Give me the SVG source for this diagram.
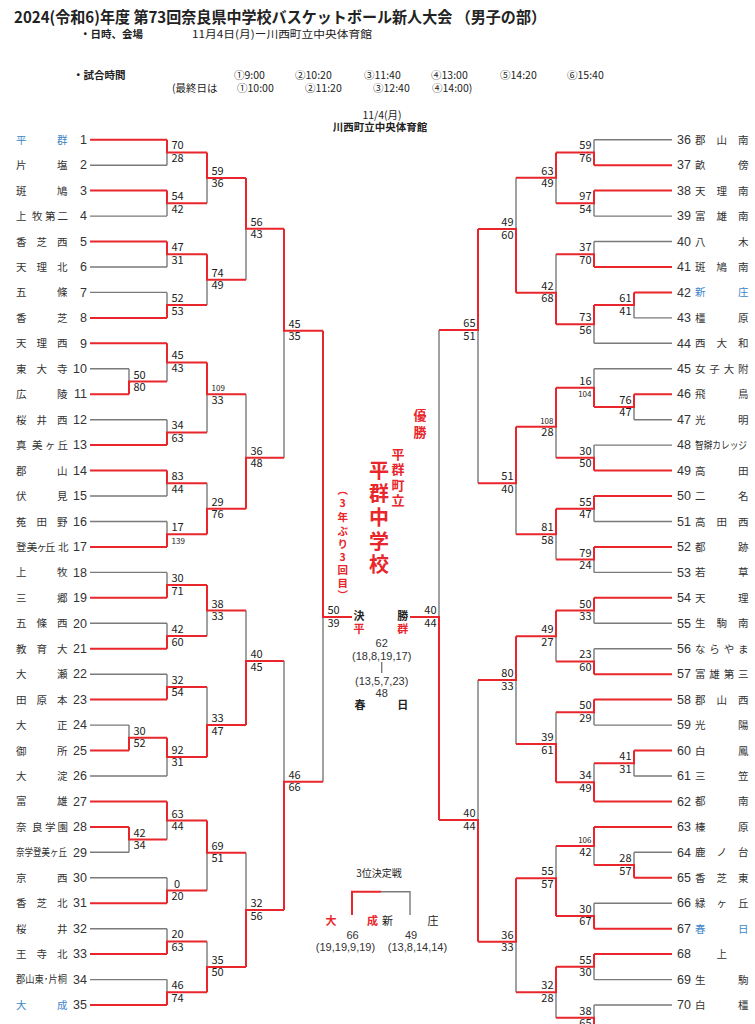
<svg xmlns="http://www.w3.org/2000/svg" width="755" height="1024" viewBox="0 0 755 1024">
<style>
.r{fill:none;stroke:#e8262b;stroke-width:2}
.g{fill:none;stroke:#7a7a7a;stroke-width:1.4}
text{font-family:"Noto Sans CJK JP",sans-serif;fill:#222}
.nm{font-size:10.5px;fill:#333}
.bl{fill:#3d85c6}
.no{font-family:"Liberation Sans","Noto Sans CJK JP",sans-serif;font-size:12.5px;fill:#333}
.ne{text-anchor:end}
.sc{font-family:"Liberation Sans",sans-serif;font-size:11px;fill:#333}
.sm{font-size:8px}
.se{text-anchor:end}
.rd{fill:#e8262b;font-weight:bold;text-anchor:middle}
.bk{font-weight:bold;text-anchor:middle;font-size:11px}
.hd{font-size:10.5px}
.hb{font-size:10.5px;font-weight:bold}
.mid{text-anchor:middle}
</style>
<rect width="755" height="1024" fill="#fff"/>
<g id="header">
<text x="14" y="23" font-size="15.5" font-weight="bold" textLength="532" lengthAdjust="spacingAndGlyphs">2024(令和6)年度 第73回奈良県中学校バスケットボール新人大会 （男子の部）</text>
<text class="hb" x="80" y="38">・日時、会場</text>
<text class="hd" x="192" y="38" textLength="180" lengthAdjust="spacingAndGlyphs">11月4日(月)ー川西町立中央体育館</text>
<text class="hb" x="73" y="79">・試合時間</text>
<text class="hd" x="234" y="79">①9:00</text>
<text class="hd" x="295" y="79">②10:20</text>
<text class="hd" x="364" y="79">③11:40</text>
<text class="hd" x="431" y="79">④13:00</text>
<text class="hd" x="500" y="79">⑤14:20</text>
<text class="hd" x="567" y="79">⑥15:40</text>
<text class="hd" x="172" y="92">(最終日は</text>
<text class="hd" x="237" y="92">①10:00</text>
<text class="hd" x="305" y="92">②11:20</text>
<text class="hd" x="373" y="92">③12:40</text>
<text class="hd" x="432" y="92">④14:00)</text>
<text class="hd mid" x="382" y="119">11/4(月)</text>
<text class="hb mid" x="380" y="131" font-size="10">川西町立中央体育館</text>
</g>
<g id="connectors">
<g id="team-lines">
<path class="g" d="M90,165.2H167M90,216.1H167M90,267H167M90,292.4H167M90,368.8H129M90,419.7H167M90,496H167M90,521.5H167M90,572.4H167M90,623.3H167M90,674.2H167M90,725.1H129M90,776H167M90,852.3H129M90,877.8H167M90,928.7H167M90,979.6H167"/>
<path class="r" d="M90,139.7H167M90,190.6H167M90,241.5H167M90,317.9H167M90,343.3H167M90,394.2H129M90,445.1H167M90,470.6H167M90,546.9H167M90,597.8H167M90,648.7H167M90,699.6H167M90,750.5H129M90,801.4H167M90,826.9H129M90,903.2H167M90,954.1H167M90,1005H167"/>
<path class="g" d="M672,139.7H594M672,216.1H594M672,241.5H594M672,317.9H634M672,343.3H594M672,368.8H594M672,419.7H634M672,445.1H594M672,521.5H594M672,572.4H594M672,623.3H594M672,648.7H594M672,725.1H594M672,776H634M672,852.3H634M672,903.2H594M672,979.6H594M672,1005H594"/>
<path class="r" d="M672,165.2H594M672,190.6H594M672,267H594M672,292.4H634M672,394.2H634M672,470.6H594M672,496H594M672,546.9H594M672,597.8H594M672,674.2H594M672,699.6H594M672,750.5H634M672,801.4H594M672,826.9H594M672,877.8H634M672,928.7H594M672,954.1H594"/>
</g>
<g id="left-bracket">
<path class="g" d="M167,152.4V165.2M167,203.3V216.1M207,177.9V203.3M167,254.2V267M167,292.4V305.1M207,279.7V305.1M246,228.8V279.7M129,368.8V381.5M167,362.4V381.5M167,419.7V432.4M207,394.3V432.4M167,483.3V496M167,521.5V534.2M207,483.3V508.8M246,394.3V457.7M284,330.7V457.7M167,572.4V585.1M167,623.3V636M207,610.5V636M167,674.2V686.9M129,725.1V737.8M167,756.9V776M207,686.9V725M246,610.5V661M129,839.6V852.3M167,820.5V839.6M167,877.8V890.5M207,852.7V890.5M167,928.7V941.4M167,979.6V992.3M207,941.4V966.9M246,852.7V910M284,661V781.7M323,617V781.7"/>
<path class="r" d="M167,139.7V152.4H207M167,190.6V203.3H207M207,152.4V177.9H246M167,241.5V254.2H207M167,317.9V305.1H207M207,254.2V279.7H246M246,177.9V228.8H284M129,394.2V381.5H167M167,343.3V362.4H207M167,445.1V432.4H207M207,362.4V394.3H246M167,470.6V483.3H207M167,546.9V534.2H207M207,534.2V508.8H246M246,508.8V457.7H284M284,228.8V330.7H323M167,597.8V585.1H207M167,648.7V636H207M207,585.1V610.5H246M167,699.6V686.9H207M129,750.5V737.8H167M167,737.8V756.9H207M207,756.9V725H246M246,725V661H284M129,826.9V839.6H167M167,801.4V820.5H207M167,903.2V890.5H207M207,820.5V852.7H246M167,954.1V941.4H207M167,1005V992.3H207M207,992.3V966.9H246M246,966.9V910H284M284,910V781.7H323M323,330.7V617H352"/>
</g>
<g id="right-bracket">
<path class="g" d="M594,139.7V152.4M594,203.3V216.1M556,177.7V203.3M594,241.5V254.2M634,305.1V317.9M594,324.2V343.3M556,254.2V292.7M516,177.7V229M634,406.9V419.7M594,368.8V387.8M594,445.1V457.8M556,426.7V457.8M594,508.7V521.5M594,559.6V572.4M556,534.2V559.6M516,483.3V534.2M478,330V483.3M594,610.5V623.3M594,648.7V661.4M556,636.3V661.4M594,712.3V725.1M634,763.2V776M594,763.2V782.3M556,712.3V744M516,680V744M634,852.3V865M594,846V865M594,903.2V915.9M556,846V878.3M594,966.8V979.6M594,1005V1017.7M556,992.3V1017.7M516,941.7V992.3M478,680V820M439,330V617"/>
<path class="r" d="M594,165.2V152.4H556M594,190.6V203.3H556M556,152.4V177.7H516M594,267V254.2H556M634,292.4V305.1H594M594,305.1V324.2H556M556,324.2V292.7H516M516,292.7V229H478M634,394.2V406.9H594M594,406.9V387.8H556M594,470.6V457.8H556M556,387.8V426.7H516M594,496V508.7H556M594,546.9V559.6H556M556,508.7V534.2H516M516,426.7V483.3H478M478,229V330H439M594,597.8V610.5H556M594,674.2V661.4H556M556,610.5V636.3H516M594,699.6V712.3H556M634,750.5V763.2H594M594,801.4V782.3H556M556,782.3V744H516M516,636.3V680H478M634,877.8V865H594M594,826.9V846H556M594,928.7V915.9H556M556,915.9V878.3H516M594,954.1V966.8H556M594,1030.5V1017.7H556M556,966.8V992.3H516M516,878.3V941.7H478M478,941.7V820H439M439,820V617H410"/>
</g>
<g id="third-place-lines">
<path class="g" d="M381,891.7H410V915"/>
<path class="r" d="M352,915V891.7H381"/>
</g>
<g id="scores-left" class="sc">
<text x="171.5" y="149.4">70</text><text x="171.5" y="161.9">28</text>
<text x="171.5" y="200.3">54</text><text x="171.5" y="212.8">42</text>
<text x="211.5" y="174.9">59</text><text x="211.5" y="187.4">36</text>
<text x="171.5" y="251.2">47</text><text x="171.5" y="263.7">31</text>
<text x="171.5" y="302.1">52</text><text x="171.5" y="314.6">53</text>
<text x="211.5" y="276.7">74</text><text x="211.5" y="289.2">49</text>
<text x="250.5" y="225.8">56</text><text x="250.5" y="238.3">43</text>
<text x="133.5" y="378.5">50</text><text x="133.5" y="391">80</text>
<text x="171.5" y="359.4">45</text><text x="171.5" y="371.9">43</text>
<text x="171.5" y="429.4">34</text><text x="171.5" y="441.9">63</text>
<text x="211.5" y="391.3" class="sm">109</text><text x="211.5" y="403.8">33</text>
<text x="171.5" y="480.3">83</text><text x="171.5" y="492.8">44</text>
<text x="171.5" y="531.2">17</text><text x="171.5" y="543.7" class="sm">139</text>
<text x="211.5" y="505.8">29</text><text x="211.5" y="518.3">76</text>
<text x="250.5" y="454.7">36</text><text x="250.5" y="467.2">48</text>
<text x="288.5" y="327.7">45</text><text x="288.5" y="340.2">35</text>
<text x="171.5" y="582.1">30</text><text x="171.5" y="594.6">71</text>
<text x="171.5" y="633">42</text><text x="171.5" y="645.5">60</text>
<text x="211.5" y="607.5">38</text><text x="211.5" y="620">33</text>
<text x="171.5" y="683.9">32</text><text x="171.5" y="696.4">54</text>
<text x="133.5" y="734.8">30</text><text x="133.5" y="747.3">52</text>
<text x="171.5" y="753.9">92</text><text x="171.5" y="766.4">31</text>
<text x="211.5" y="722">33</text><text x="211.5" y="734.5">47</text>
<text x="250.5" y="658">40</text><text x="250.5" y="670.5">45</text>
<text x="133.5" y="836.6">42</text><text x="133.5" y="849.1">34</text>
<text x="171.5" y="817.5">63</text><text x="171.5" y="830">44</text>
<text x="174" y="887.5">0</text><text x="171.5" y="900">20</text>
<text x="211.5" y="849.7">69</text><text x="211.5" y="862.2">51</text>
<text x="171.5" y="938.4">20</text><text x="171.5" y="950.9">63</text>
<text x="171.5" y="989.3">46</text><text x="171.5" y="1001.8">74</text>
<text x="211.5" y="963.9">35</text><text x="211.5" y="976.4">50</text>
<text x="250.5" y="907">32</text><text x="250.5" y="919.5">56</text>
<text x="288.5" y="778.7">46</text><text x="288.5" y="791.2">66</text>
<text x="327.5" y="614">50</text><text x="327.5" y="626.5">39</text>
</g>
<g id="scores-right" class="sc se">
<text x="591.5" y="149.4">59</text><text x="591.5" y="161.9">76</text>
<text x="591.5" y="200.3">97</text><text x="591.5" y="212.8">54</text>
<text x="553.5" y="174.7">63</text><text x="553.5" y="187.2">49</text>
<text x="591.5" y="251.2">37</text><text x="591.5" y="263.7">70</text>
<text x="631.5" y="302.1">61</text><text x="631.5" y="314.6">41</text>
<text x="591.5" y="321.2">73</text><text x="591.5" y="333.7">56</text>
<text x="553.5" y="289.7">42</text><text x="553.5" y="302.2">68</text>
<text x="513.5" y="226">49</text><text x="513.5" y="238.5">60</text>
<text x="631.5" y="403.9">76</text><text x="631.5" y="416.4">47</text>
<text x="591.5" y="384.8">16</text><text x="591.5" y="397.3" class="sm">104</text>
<text x="591.5" y="454.8">30</text><text x="591.5" y="467.3">50</text>
<text x="553.5" y="423.7" class="sm">108</text><text x="553.5" y="436.2">28</text>
<text x="591.5" y="505.7">55</text><text x="591.5" y="518.2">47</text>
<text x="591.5" y="556.6">79</text><text x="591.5" y="569.1">24</text>
<text x="553.5" y="531.2">81</text><text x="553.5" y="543.7">58</text>
<text x="513.5" y="480.3">51</text><text x="513.5" y="492.8">40</text>
<text x="475.5" y="327">65</text><text x="475.5" y="339.5">51</text>
<text x="591.5" y="607.5">50</text><text x="591.5" y="620">33</text>
<text x="591.5" y="658.4">23</text><text x="591.5" y="670.9">60</text>
<text x="553.5" y="633.3">49</text><text x="553.5" y="645.8">27</text>
<text x="591.5" y="709.3">50</text><text x="591.5" y="721.8">29</text>
<text x="631.5" y="760.2">41</text><text x="631.5" y="772.7">31</text>
<text x="591.5" y="779.3">34</text><text x="591.5" y="791.8">49</text>
<text x="553.5" y="741">39</text><text x="553.5" y="753.5">61</text>
<text x="513.5" y="677">80</text><text x="513.5" y="689.5">33</text>
<text x="631.5" y="862">28</text><text x="631.5" y="874.5">57</text>
<text x="591.5" y="843" class="sm">106</text><text x="591.5" y="855.5">42</text>
<text x="591.5" y="912.9">30</text><text x="591.5" y="925.4">67</text>
<text x="553.5" y="875.3">55</text><text x="553.5" y="887.8">57</text>
<text x="591.5" y="963.8">55</text><text x="591.5" y="976.3">30</text>
<text x="591.5" y="1014.7">38</text><text x="591.5" y="1027.2">65</text>
<text x="553.5" y="989.3">32</text><text x="553.5" y="1001.8">28</text>
<text x="513.5" y="938.7">36</text><text x="513.5" y="951.2">33</text>
<text x="475.5" y="817">40</text><text x="475.5" y="829.5">44</text>
<text x="436.5" y="614">40</text><text x="436.5" y="626.5">44</text>
</g>
</g>
<g id="team-1"><text class="nm bl" x="16 57" y="143.7">平群</text><text class="no ne" x="87" y="143.9">1</text></g>
<g id="team-2"><text class="nm" x="16 57" y="169.2">片塩</text><text class="no ne" x="87" y="169.4">2</text></g>
<g id="team-3"><text class="nm" x="16 57" y="194.6">斑鳩</text><text class="no ne" x="87" y="194.8">3</text></g>
<g id="team-4"><text class="nm" x="16 32 45 57.5" y="220.1">上牧第二</text><text class="no ne" x="87" y="220.3">4</text></g>
<g id="team-5"><text class="nm" x="16 36.5 57" y="245.5">香芝西</text><text class="no ne" x="87" y="245.7">5</text></g>
<g id="team-6"><text class="nm" x="16 36.5 57" y="271">天理北</text><text class="no ne" x="87" y="271.2">6</text></g>
<g id="team-7"><text class="nm" x="16 57" y="296.4">五條</text><text class="no ne" x="87" y="296.6">7</text></g>
<g id="team-8"><text class="nm" x="16 57" y="321.9">香芝</text><text class="no ne" x="87" y="322.1">8</text></g>
<g id="team-9"><text class="nm" x="16 36.5 57" y="347.3">天理西</text><text class="no ne" x="87" y="347.5">9</text></g>
<g id="team-10"><text class="nm" x="16 36.5 57" y="372.8">東大寺</text><text class="no ne" x="87" y="373">10</text></g>
<g id="team-11"><text class="nm" x="16 57" y="398.2">広陵</text><text class="no ne" x="87" y="398.4">11</text></g>
<g id="team-12"><text class="nm" x="16 36.5 57" y="423.7">桜井西</text><text class="no ne" x="87" y="423.9">12</text></g>
<g id="team-13"><text class="nm" x="16 32 45 57.5" y="449.1">真美ヶ丘</text><text class="no ne" x="87" y="449.3">13</text></g>
<g id="team-14"><text class="nm" x="16 57" y="474.6">郡山</text><text class="no ne" x="87" y="474.8">14</text></g>
<g id="team-15"><text class="nm" x="16 57" y="500">伏見</text><text class="no ne" x="87" y="500.2">15</text></g>
<g id="team-16"><text class="nm" x="16 36.5 57" y="525.5">菟田野</text><text class="no ne" x="87" y="525.7">16</text></g>
<g id="team-17"><text class="nm" font-size="10" x="16 26.7 36.5 45 58" y="550.9">登美ヶ丘北</text><text class="no ne" x="87" y="551.1">17</text></g>
<g id="team-18"><text class="nm" x="16 57" y="576.4">上牧</text><text class="no ne" x="87" y="576.6">18</text></g>
<g id="team-19"><text class="nm" x="16 57" y="601.8">三郷</text><text class="no ne" x="87" y="602">19</text></g>
<g id="team-20"><text class="nm" x="16 36.5 57" y="627.3">五條西</text><text class="no ne" x="87" y="627.5">20</text></g>
<g id="team-21"><text class="nm" x="16 36.5 57" y="652.7">教育大</text><text class="no ne" x="87" y="652.9">21</text></g>
<g id="team-22"><text class="nm" x="16 57" y="678.2">大瀬</text><text class="no ne" x="87" y="678.4">22</text></g>
<g id="team-23"><text class="nm" x="16 36.5 57" y="703.6">田原本</text><text class="no ne" x="87" y="703.8">23</text></g>
<g id="team-24"><text class="nm" x="16 57" y="729.1">大正</text><text class="no ne" x="87" y="729.3">24</text></g>
<g id="team-25"><text class="nm" x="16 57" y="754.5">御所</text><text class="no ne" x="87" y="754.7">25</text></g>
<g id="team-26"><text class="nm" x="16 57" y="780">大淀</text><text class="no ne" x="87" y="780.2">26</text></g>
<g id="team-27"><text class="nm" x="16 57" y="805.4">富雄</text><text class="no ne" x="87" y="805.6">27</text></g>
<g id="team-28"><text class="nm" x="16 32 45 57.5" y="830.9">奈良学園</text><text class="no ne" x="87" y="831.1">28</text></g>
<g id="team-29"><text class="nm" font-size="8.5" x="16" y="855.6" textLength="51" lengthAdjust="spacingAndGlyphs">奈学登美ヶ丘</text><text class="no ne" x="87" y="856.5">29</text></g>
<g id="team-30"><text class="nm" x="16 57" y="881.8">京西</text><text class="no ne" x="87" y="882">30</text></g>
<g id="team-31"><text class="nm" x="16 36.5 57" y="907.2">香芝北</text><text class="no ne" x="87" y="907.4">31</text></g>
<g id="team-32"><text class="nm" x="16 57" y="932.7">桜井</text><text class="no ne" x="87" y="932.9">32</text></g>
<g id="team-33"><text class="nm" x="16 36.5 57" y="958.1">王寺北</text><text class="no ne" x="87" y="958.3">33</text></g>
<g id="team-34"><text class="nm" font-size="8.5" x="16" y="982.9" textLength="51" lengthAdjust="spacingAndGlyphs">郡山東･片桐</text><text class="no ne" x="87" y="983.8">34</text></g>
<g id="team-35"><text class="nm bl" x="16 57" y="1009">大成</text><text class="no ne" x="87" y="1009.2">35</text></g>
<g id="team-36"><text class="no" x="677" y="143.9">36</text><text class="nm" x="695 716.5 738" y="143.7">郡山南</text></g>
<g id="team-37"><text class="no" x="677" y="169.4">37</text><text class="nm" x="695 738" y="169.2">畝傍</text></g>
<g id="team-38"><text class="no" x="677" y="194.8">38</text><text class="nm" x="695 716.5 738" y="194.6">天理南</text></g>
<g id="team-39"><text class="no" x="677" y="220.3">39</text><text class="nm" x="695 716.5 738" y="220.1">富雄南</text></g>
<g id="team-40"><text class="no" x="677" y="245.7">40</text><text class="nm" x="695 738" y="245.5">八木</text></g>
<g id="team-41"><text class="no" x="677" y="271.2">41</text><text class="nm" x="695 716.5 738" y="271">斑鳩南</text></g>
<g id="team-42"><text class="no" x="677" y="296.6">42</text><text class="nm bl" x="695 738" y="296.4">新庄</text></g>
<g id="team-43"><text class="no" x="677" y="322.1">43</text><text class="nm" x="695 738" y="321.9">橿原</text></g>
<g id="team-44"><text class="no" x="677" y="347.5">44</text><text class="nm" x="695 716.5 738" y="347.3">西大和</text></g>
<g id="team-45"><text class="no" x="677" y="373">45</text><text class="nm" x="695 709.3 723.7 738" y="372.8">女子大附</text></g>
<g id="team-46"><text class="no" x="677" y="398.4">46</text><text class="nm" x="695 738" y="398.2">飛鳥</text></g>
<g id="team-47"><text class="no" x="677" y="423.9">47</text><text class="nm" x="695 738" y="423.7">光明</text></g>
<g id="team-48"><text class="no" x="677" y="449.3">48</text><text class="nm" font-size="9" x="695" y="448.6" textLength="52" lengthAdjust="spacingAndGlyphs">智辯カレッジ</text></g>
<g id="team-49"><text class="no" x="677" y="474.8">49</text><text class="nm" x="695 738" y="474.6">高田</text></g>
<g id="team-50"><text class="no" x="677" y="500.2">50</text><text class="nm" x="695 738" y="500">二名</text></g>
<g id="team-51"><text class="no" x="677" y="525.7">51</text><text class="nm" x="695 716.5 738" y="525.5">高田西</text></g>
<g id="team-52"><text class="no" x="677" y="551.1">52</text><text class="nm" x="695 738" y="550.9">都跡</text></g>
<g id="team-53"><text class="no" x="677" y="576.6">53</text><text class="nm" x="695 738" y="576.4">若草</text></g>
<g id="team-54"><text class="no" x="677" y="602">54</text><text class="nm" x="695 738" y="601.8">天理</text></g>
<g id="team-55"><text class="no" x="677" y="627.5">55</text><text class="nm" x="695 716.5 738" y="627.3">生駒南</text></g>
<g id="team-56"><text class="no" x="677" y="652.9">56</text><text class="nm" x="695 709.3 723.7 738" y="652.7">ならやま</text></g>
<g id="team-57"><text class="no" x="677" y="678.4">57</text><text class="nm" x="695 709.3 723.7 738" y="678.2">富雄第三</text></g>
<g id="team-58"><text class="no" x="677" y="703.8">58</text><text class="nm" x="695 716.5 738" y="703.6">郡山西</text></g>
<g id="team-59"><text class="no" x="677" y="729.3">59</text><text class="nm" x="695 738" y="729.1">光陽</text></g>
<g id="team-60"><text class="no" x="677" y="754.7">60</text><text class="nm" x="695 738" y="754.5">白鳳</text></g>
<g id="team-61"><text class="no" x="677" y="780.2">61</text><text class="nm" x="695 738" y="780">三笠</text></g>
<g id="team-62"><text class="no" x="677" y="805.6">62</text><text class="nm" x="695 738" y="805.4">都南</text></g>
<g id="team-63"><text class="no" x="677" y="831.1">63</text><text class="nm" x="695 738" y="830.9">榛原</text></g>
<g id="team-64"><text class="no" x="677" y="856.5">64</text><text class="nm" x="695 716.5 738" y="856.3">鹿ノ台</text></g>
<g id="team-65"><text class="no" x="677" y="882">65</text><text class="nm" x="695 716.5 738" y="881.8">香芝東</text></g>
<g id="team-66"><text class="no" x="677" y="907.4">66</text><text class="nm" x="695 716.5 738" y="907.2">緑ヶ丘</text></g>
<g id="team-67"><text class="no" x="677" y="932.9">67</text><text class="nm bl" x="695 738" y="932.7">春日</text></g>
<g id="team-68"><text class="no" x="677" y="958.3">68</text><text class="nm" x="716.5" y="958.1">上</text></g>
<g id="team-69"><text class="no" x="677" y="983.8">69</text><text class="nm" x="695 738" y="983.6">生駒</text></g>
<g id="team-70"><text class="no" x="677" y="1009.2">70</text><text class="nm" x="695 738" y="1009">白橿</text></g>
<g id="champion">
<text class="rd" font-size="13" x="420" y="420">優</text>
<text class="rd" font-size="13" x="420" y="437">勝</text>
<text class="rd" font-size="13" x="398" y="459">平</text>
<text class="rd" font-size="13" x="398" y="474">群</text>
<text class="rd" font-size="13" x="398" y="489.5">町</text>
<text class="rd" font-size="13" x="398" y="505">立</text>
<text class="rd" font-size="20" x="379" y="478">平</text>
<text class="rd" font-size="20" x="379" y="501">群</text>
<text class="rd" font-size="20" x="379" y="525">中</text>
<text class="rd" font-size="20" x="379" y="549">学</text>
<text class="rd" font-size="20" x="379" y="572">校</text>
<text class="rd" font-size="10.5" x="342.7" y="494">︵</text>
<text class="rd" font-size="10.5" x="342.7" y="507.3">3</text>
<text class="rd" font-size="10.5" x="342.7" y="520.7">年</text>
<text class="rd" font-size="10.5" x="342.7" y="535">ぶ</text>
<text class="rd" font-size="10.5" x="342.7" y="548">り</text>
<text class="rd" font-size="10.5" x="342.7" y="560.7">3</text>
<text class="rd" font-size="10.5" x="342.7" y="574">回</text>
<text class="rd" font-size="10.5" x="342.7" y="587">目</text>
<text class="rd" font-size="10.5" x="342.7" y="599">︶</text>
</g>
<g id="final">
<text class="bk" x="359" y="620">決</text>
<text class="bk" x="402.7" y="620">勝</text>
<text class="rd" font-size="11" x="359" y="632.5">平</text>
<text class="rd" font-size="11" x="402.7" y="632.5">群</text>
<text class="sc mid" x="381.7" y="647">62</text>
<text class="sc mid" x="381.7" y="659.5">(18,8,19,17)</text>
<path class="g" d="M381.7,662V673" stroke-width="1"/>
<text class="sc mid" x="381.7" y="685">(13,5,7,23)</text>
<text class="sc mid" x="381.7" y="697">48</text>
<text class="bk" x="360" y="708.5">春</text>
<text class="bk" x="402.7" y="708.5">日</text>
</g>
<g id="third-place">
<text class="mid" font-size="10" x="379" y="877">3位決定戦</text>
<text class="rd" font-size="11" x="331" y="925">大</text>
<text class="rd" font-size="11" x="372.5" y="925">成</text>
<text class="mid" font-size="11" x="387.5" y="925">新</text>
<text class="mid" font-size="11" x="433" y="925">庄</text>
<text class="sc mid" x="352.5" y="939">66</text>
<text class="sc mid" x="345.5" y="951">(19,19,9,19)</text>
<text class="sc mid" x="411" y="939">49</text>
<text class="sc mid" x="417.5" y="951">(13,8,14,14)</text>
</g>
</svg>
